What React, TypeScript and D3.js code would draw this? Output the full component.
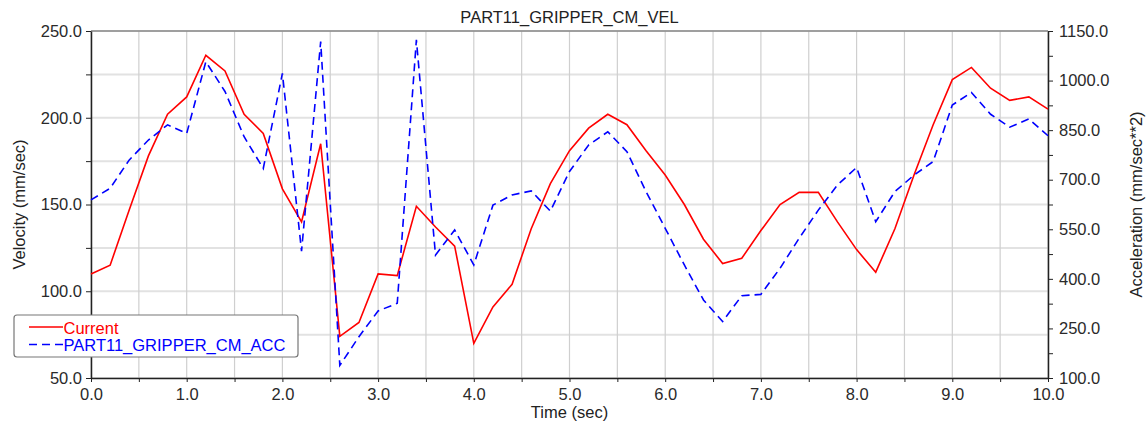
import React, { useEffect, useRef } from 'react';
import * as d3 from 'd3';

// time samples (sec)
const time = [
  0, 0.2, 0.4, 0.6, 0.8, 1.0, 1.2, 1.4, 1.6, 1.8, 2.0, 2.2, 2.4, 2.6, 2.8, 3.0, 3.2, 3.4, 3.6, 3.8,
  4.0, 4.2, 4.4, 4.6, 4.8, 5.0, 5.2, 5.4, 5.6, 5.8, 6.0, 6.2, 6.4, 6.6, 6.8, 7.0, 7.2, 7.4, 7.6, 7.8,
  8.0, 8.2, 8.4, 8.6, 8.8, 9.0, 9.2, 9.4, 9.6, 9.8, 10.0,
];

// velocity (mm/sec), left axis
const velocity = [
  110, 115, 147, 178, 202, 212, 236, 227, 202, 191, 159, 140, 185, 74, 82, 110, 109, 149, 137, 126,
  70, 91, 104, 136, 162, 181, 194, 202, 196, 181, 167, 150, 130, 116, 119, 135, 150, 157, 157, 140,
  124, 111, 136, 167, 196, 222, 229, 217, 210, 212, 205,
];

// acceleration (mm/sec**2), right axis
const acceleration = [
  639, 674, 760, 820, 866, 840, 1057, 967, 830, 734, 1022, 484, 1118, 138, 225, 303, 326, 1123, 472, 548,
  442, 623, 654, 666, 605, 725, 805, 845, 785, 664, 553, 442, 336, 271, 349, 353, 432, 523, 608, 684,
  737, 573, 664, 714, 755, 926, 964, 898, 859, 884, 833,
];

const xTicks = [0, 1, 2, 3, 4, 5, 6, 7, 8, 9, 10];
const velTicks = [50, 100, 150, 200, 250];
const accTicks = [100, 250, 400, 550, 700, 850, 1000, 1150];

const FONT = '"Liberation Sans", Arial, sans-serif';
const FS = '16.5px';

const App = () => {
  const svgRef = useRef<SVGSVGElement>(null);

  useEffect(() => {
    const svg = d3.select(svgRef.current);
    svg.selectAll('*').remove();

    const W = 1147;
    const H = 423;
    const margin = { top: 31, right: 99, bottom: 45, left: 91 };
    const width = W - margin.left - margin.right;
    const height = H - margin.top - margin.bottom;

    svg.attr('width', W).attr('height', H);

    const g = svg.append('g').attr('transform', `translate(${margin.left},${margin.top})`);

    const x = d3.scaleLinear().domain([0, 10]).range([0, width]);
    const yL = d3.scaleLinear().domain([50, 250]).range([height, 0]);
    const yR = d3.scaleLinear().domain([100, 1150]).range([height, 0]);

    // grid
    const hGrid = d3.range(50, 251, 25);
    g.selectAll('.hgrid')
      .data(hGrid)
      .enter()
      .append('line')
      .attr('x1', 0)
      .attr('x2', width)
      .attr('y1', (d) => yL(d))
      .attr('y2', (d) => yL(d))
      .attr('stroke', '#e2e2e2')
      .attr('stroke-width', 2);

    const vGrid = d3.range(0, 10.01, 0.5);
    g.selectAll('.vgrid')
      .data(vGrid)
      .enter()
      .append('line')
      .attr('x1', (d) => x(d))
      .attr('x2', (d) => x(d))
      .attr('y1', 0)
      .attr('y2', height)
      .attr('stroke', '#cfcfcf')
      .attr('stroke-width', 1.2);

    // top border
    g.append('line')
      .attr('x1', 0)
      .attr('x2', width)
      .attr('y1', 0)
      .attr('y2', 0)
      .attr('stroke', '#888')
      .attr('stroke-width', 1.5);

    // axes
    const styleAxis = (sel: any) => {
      sel.selectAll('.domain').attr('stroke', '#222').attr('stroke-width', 1.5);
      sel.selectAll('.tick line').attr('stroke', '#222');
      sel.selectAll('text')
        .attr('fill', '#2a2a2a')
        .style('font-family', FONT)
        .style('font-size', FS);
    };

    const xAx = g.append('g')
      .attr('transform', `translate(0,${height})`)
      .call(
        d3.axisBottom(x)
          .tickValues(d3.range(0, 10.01, 0.5))
          .tickSize(4)
          .tickSizeOuter(0)
          .tickPadding(6)
          .tickFormat((d: any) => (xTicks.includes(d) ? d3.format('.1f')(d) : ''))
      );
    styleAxis(xAx);

    const yLAx = g.append('g').call(
      d3.axisLeft(yL)
        .tickValues(d3.range(50, 251, 25))
        .tickSize(5)
        .tickSizeOuter(0)
        .tickPadding(4)
        .tickFormat((d: any) => (velTicks.includes(d) ? d3.format('.1f')(d) : ''))
    );
    styleAxis(yLAx);

    const yRAx = g.append('g')
      .attr('transform', `translate(${width},0)`)
      .call(
        d3.axisRight(yR)
          .tickValues(d3.range(100, 1151, 75))
          .tickSize(5)
          .tickSizeOuter(0)
          .tickPadding(6)
          .tickFormat((d: any) => (accTicks.includes(d) ? d3.format('.1f')(d) : ''))
      );
    styleAxis(yRAx);

    // lines
    const velLine = d3.line<number>()
      .x((_, i) => x(time[i]))
      .y((d) => yL(d));
    const accLine = d3.line<number>()
      .x((_, i) => x(time[i]))
      .y((d) => yR(d));

    g.append('path')
      .datum(velocity)
      .attr('fill', 'none')
      .attr('stroke', '#ff0000')
      .attr('stroke-width', 1.6)
      .attr('d', velLine);

    g.append('path')
      .datum(acceleration)
      .attr('fill', 'none')
      .attr('stroke', '#0000ff')
      .attr('stroke-width', 1.6)
      .attr('stroke-dasharray', '8,5')
      .attr('d', accLine);

    // titles
    const label = (t: string) =>
      svg.append('text')
        .attr('fill', '#222')
        .style('font-family', FONT)
        .style('font-size', FS)
        .text(t);

    label('PART11_GRIPPER_CM_VEL')
      .attr('x', margin.left + width / 2)
      .attr('y', 23)
      .attr('text-anchor', 'middle');

    label('Time (sec)')
      .attr('x', margin.left + width / 2)
      .attr('y', 418)
      .attr('text-anchor', 'middle');

    label('Velocity (mm/sec)')
      .attr('transform', `translate(25,${margin.top + height / 2}) rotate(-90)`)
      .attr('text-anchor', 'middle');

    label('Acceleration (mm/sec**2)')
      .attr('transform', `translate(1142,${margin.top + height / 2}) rotate(-90)`)
      .attr('text-anchor', 'middle');

    // legend
    const lg = svg.append('g');
    lg.append('rect')
      .attr('x', 14)
      .attr('y', 315)
      .attr('width', 284)
      .attr('height', 42)
      .attr('rx', 3)
      .attr('fill', '#fff')
      .attr('stroke', '#777')
      .attr('stroke-width', 1.2);
    const items = [
      { label: 'Current', color: '#ff0000', dash: null },
      { label: 'PART11_GRIPPER_CM_ACC', color: '#0000ff', dash: '8,5' },
    ];
    items.forEach((it, i) => {
      const yy = 327 + i * 17.5;
      lg.append('line')
        .attr('x1', 29)
        .attr('x2', 63)
        .attr('y1', yy)
        .attr('y2', yy)
        .attr('stroke', it.color)
        .attr('stroke-width', 1.6)
        .attr('stroke-dasharray', it.dash);
      lg.append('text')
        .attr('x', 63.5)
        .attr('y', yy + 6.5)
        .attr('fill', it.color)
        .style('font-family', FONT)
        .style('font-size', FS)
        .text(it.label);
    });
  }, []);

  return (
    <div style={{ position: 'absolute', left: 0, top: 0, background: '#fff' }}>
      <svg ref={svgRef} style={{ display: 'block' }}></svg>
    </div>
  );
};

export default App;
